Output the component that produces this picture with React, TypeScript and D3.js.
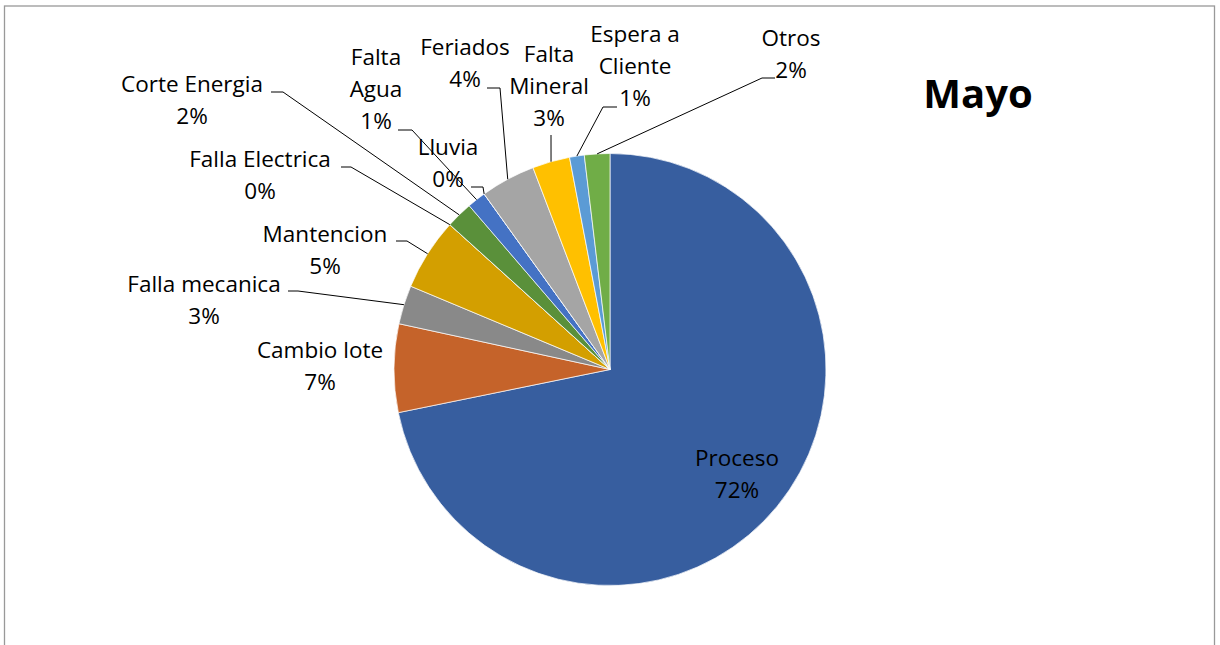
import React from "react";
import * as d3 from "d3";

const categories = [
  "Proceso",
  "Cambio lote",
  "Falla mecanica",
  "Mantencion",
  "Falla Electrica",
  "Corte Energia",
  "Falta Agua",
  "Lluvia",
  "Feriados",
  "Falta Mineral",
  "Espera a Cliente",
  "Otros",
];
const values = [71.8, 6.6, 2.9, 5.4, 0, 2.0, 1.4, 0, 4.1, 2.8, 1.1, 1.9];
const colors = [
  "#375E9F",
  "#C5632A",
  "#898989",
  "#D39F00",
  "#2C4D8C",
  "#5A903A",
  "#4472C4",
  "#7F7F7F",
  "#A5A5A5",
  "#FFC000",
  "#5B9BD5",
  "#70AD47",
];
const title = "Mayo";

// label layout: text lines (name split) + anchor (center x, first baseline)
const labelLines: string[][] = [
  ["Proceso"],
  ["Cambio lote"],
  ["Falla mecanica"],
  ["Mantencion"],
  ["Falla Electrica"],
  ["Corte Energia"],
  ["Falta", "Agua"],
  ["Lluvia"],
  ["Feriados"],
  ["Falta", "Mineral"],
  ["Espera a", "Cliente"],
  ["Otros"],
];
const labelPos: [number, number][] = [
  [737, 466],
  [320, 358],
  [204, 292],
  [325, 242],
  [260, 167],
  [192, 92],
  [376, 65],
  [448, 155],
  [465, 55],
  [549, 62],
  [635, 42],
  [791, 46],
];
// leader lines: start and elbow points (null = no leader)
const leaders: ([number, number][] | null)[] = [
  null,
  null,
  [[288, 291], [298, 291]],
  [[396, 241], [407, 241]],
  [[341, 167], [351, 167]],
  [[271, 92], [283, 92]],
  [[398, 130], [412, 130]],
  [[471, 187], [483, 187]],
  [[487, 88], [500, 88]],
  [[551, 135]],
  [[617, 107], [603, 107]],
  [[775, 78], [762, 78]],
];

const W = 1220;
const H = 645;
const cx = 610;
const cy = 369.5;
const R = 216;
const LINE = 32;
const FONT = "'Open Sans', sans-serif";

export default function App() {
  const data = categories.map((c, i) => ({ name: c, value: values[i], i }));
  const total = d3.sum(values);
  const pie = d3
    .pie<any>()
    .sort(null)
    .value((d) => d.value)
    .startAngle(0)
    .endAngle(2 * Math.PI);
  const arcs = pie(data);
  const arc = d3.arc<any>().innerRadius(0).outerRadius(R);
  const edge = (a: any): [number, number] => {
    const m = (a.startAngle + a.endAngle) / 2;
    return [cx + R * Math.sin(m), cy - R * Math.cos(m)];
  };

  return (
    <svg
      width={W}
      height={H}
      style={{ position: "absolute", left: 0, top: 0, background: "#fff" }}
    >
      <rect
        x={4.5}
        y={6}
        width={1210}
        height={H + 10}
        fill="#fff"
        stroke="#999"
        strokeWidth={1.3}
      />
      <g transform={`translate(${cx},${cy})`}>
        {arcs.map((a, k) => (
          <path
            key={k}
            d={arc(a) || ""}
            fill={colors[k]}
            stroke="#fff"
            strokeWidth={0.7}
          />
        ))}
      </g>
      {arcs.map((a, k) => {
        const l = leaders[k];
        if (!l) return null;
        const pts = [...l, edge(a)];
        const line = d3.line()(pts as [number, number][]);
        return (
          <path key={"l" + k} d={line || ""} fill="none" stroke="#000" strokeWidth={1} />
        );
      })}
      {data.map((d, k) => {
        const lines = [
          ...labelLines[k],
          `${Math.round((d.value / total) * 100 + 1e-9)}%`,
        ];
        const [x, y] = labelPos[k];
        return (
          <text
            key={"t" + k}
            x={x}
            y={y}
            textAnchor="middle"
            fontFamily={FONT}
            fontSize={22.5}
            fill="#000"
          >
            {lines.map((t, j) => (
              <tspan key={j} x={x} y={y + j * LINE}>
                {t}
              </tspan>
            ))}
          </text>
        );
      })}
      <text
        x={978}
        y={108}
        textAnchor="middle"
        fontFamily={FONT}
        fontWeight="bold"
        fontSize={40}
        fill="#000"
      >
        {title}
      </text>
    </svg>
  );
}
